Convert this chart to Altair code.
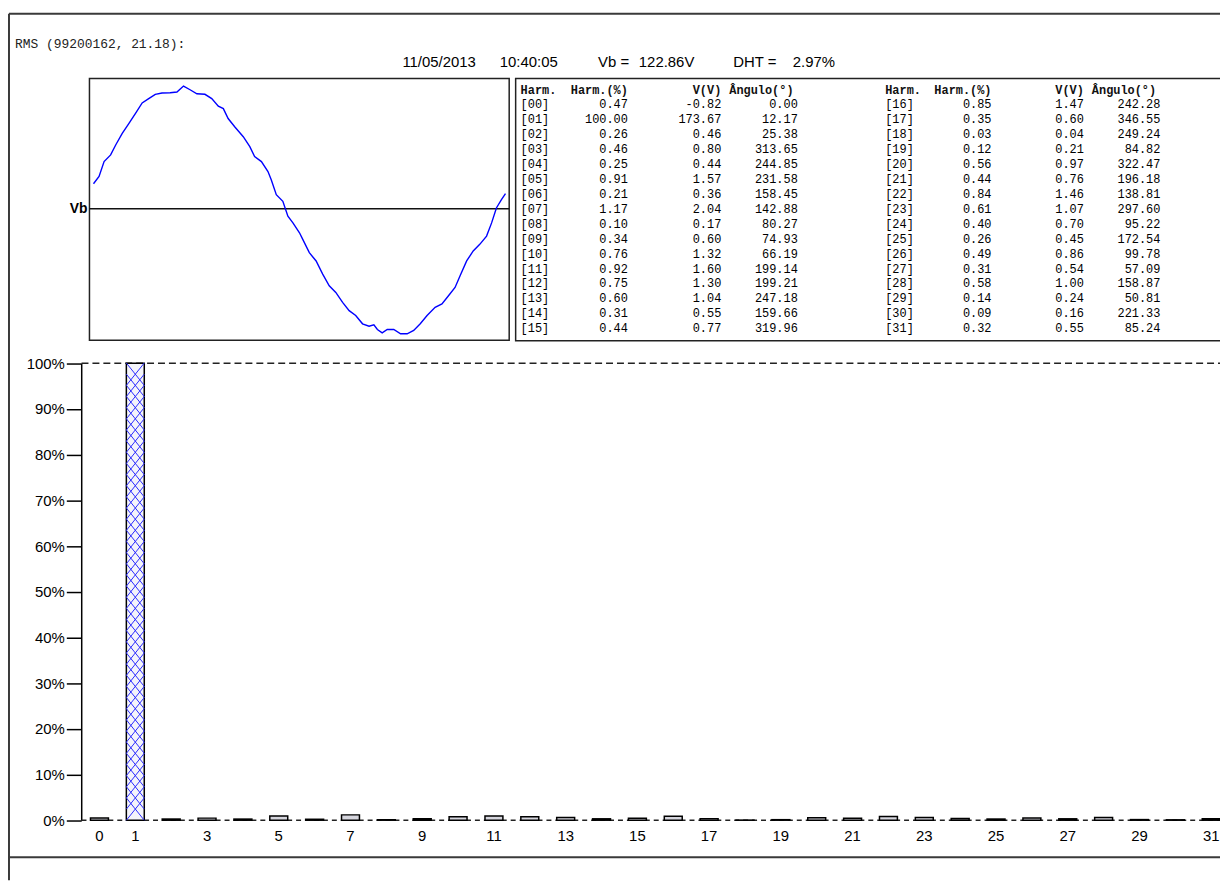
import altair as alt
import pandas as pd

# ---------------- data ----------------
header_left = "RMS (99200162, 21.18):"
header_items = ["11/05/2013", "10:40:05", "Vb =", "122.86V", "DHT =", "2.97%"]
wave_label = "Vb"
table_headers = ["Harm.", "Harm.(%)", "V(V)", "Ângulo(°)"]

harmonics = list(range(32))
harm_pct = [0.47, 100.00, 0.26, 0.46, 0.25, 0.91, 0.21, 1.17, 0.10, 0.34, 0.76, 0.92,
            0.75, 0.60, 0.31, 0.44, 0.85, 0.35, 0.03, 0.12, 0.56, 0.44, 0.84, 0.61,
            0.40, 0.26, 0.49, 0.31, 0.58, 0.14, 0.09, 0.32]
volts = [-0.82, 173.67, 0.46, 0.80, 0.44, 1.57, 0.36, 2.04, 0.17, 0.60, 1.32, 1.60,
         1.30, 1.04, 0.55, 0.77, 1.47, 0.60, 0.04, 0.21, 0.97, 0.76, 1.46, 1.07,
         0.70, 0.45, 0.86, 0.54, 1.00, 0.24, 0.16, 0.55]
angles = [0.00, 12.17, 25.38, 313.65, 244.85, 231.58, 158.45, 142.88, 80.27, 74.93,
          66.19, 199.14, 199.21, 247.18, 159.66, 319.96, 242.28, 346.55, 249.24, 84.82,
          322.47, 196.18, 138.81, 297.60, 95.22, 172.54, 99.78, 57.09, 158.87, 50.81,
          221.33, 85.24]

# waveform: time (ms) and voltage (V)
wave_t_ms = [0.16, 0.38, 0.58, 0.84, 1.04, 1.30, 1.56, 1.82, 2.09, 2.35, 2.61, 2.88,
             3.20, 3.47, 3.73, 3.99, 4.26, 4.58, 4.85, 5.11, 5.31, 5.50, 5.76, 6.10,
             6.36, 6.55, 6.82, 7.08, 7.21, 7.41, 7.67, 7.78, 7.87, 8.07, 8.33, 8.46,
             8.72, 8.99, 9.25, 9.51, 9.77, 10.04, 10.30, 10.56, 10.83, 11.09, 11.28,
             11.42, 11.61, 11.81, 12.07, 12.34, 12.60, 12.86, 13.12, 13.39, 13.71,
             13.98, 14.24, 14.50, 14.70, 14.96, 15.22, 15.48, 15.75, 15.95, 16.14,
             16.34, 16.50]
wave_v = [36.2, 46.4, 67.3, 76.7, 90.6, 106.8, 120.7, 134.7, 149.6, 155.6, 161.7, 163.5,
          163.9, 164.9, 173.3, 168.1, 162.5, 161.7, 155.6, 145.0, 141.6, 127.7, 116.1,
          102.2, 88.2, 74.3, 67.3, 53.4, 41.8, 20.9, 11.6, 0.0, -9.3, -18.7, -32.6,
          -41.8, -60.5, -72.1, -90.6, -106.9, -116.3, -130.2, -141.8, -148.7, -160.3,
          -163.7, -161.7, -168.3, -172.9, -168.3, -168.3, -174.3, -174.3, -169.6,
          -160.3, -148.7, -137.2, -132.4, -120.9, -109.3, -93.0, -72.1, -58.1, -48.8,
          -37.2, -18.7, 2.2, 13.9, 22.3]

y_ticks = [0, 10, 20, 30, 40, 50, 60, 70, 80, 90, 100]
x_labels = [0, 1, 3, 5, 7, 9, 11, 13, 15, 17, 19, 21, 23, 25, 27, 29, 31]

# ---------------- layout ----------------
W, H = 1220, 875
OX, OY = 8, 8
def px(x):
    return x - OX
def py(y):
    return y - OY

SANS = "Liberation Sans"
MONO = "Liberation Mono"
FRAME = "#3a3a3a"
dummy = pd.DataFrame({"d": [0]})


def hrule(y, x1, x2, color="black", width=1.5, dash=None):
    kw = dict(color=color, strokeWidth=width)
    if dash:
        kw["strokeDash"] = dash
    return alt.Chart(dummy).mark_rule(**kw).encode(
        x=alt.value(x1), x2=alt.value(x2), y=alt.value(y))


def vrule(x, y1, y2, color="black", width=1.5):
    return alt.Chart(dummy).mark_rule(color=color, strokeWidth=width).encode(
        x=alt.value(x), y=alt.value(y1), y2=alt.value(y2))


def label(text, x, y, font=SANS, size=15, align="left", weight="normal", color="black"):
    return alt.Chart(dummy).mark_text(
        font=font, fontSize=size, align=align, baseline="middle",
        fontWeight=weight, color=color).encode(
        x=alt.value(x), y=alt.value(y), text=alt.value(text))


layers = []

# outer frame
layers.append(vrule(px(9), py(11), H, FRAME, 2))
layers.append(hrule(py(11), px(9), W, FRAME, 2))
layers.append(hrule(py(860), px(9), W, FRAME, 2))

# header
layers.append(label(header_left, px(15), py(41), font=MONO, size=13, color="#222"))
header_x = [405, 503, 602, 643, 738, 798]
for t, xx in zip(header_items, header_x):
    layers.append(label(t, px(xx), py(60)))

# waveform panel
layers.append(alt.Chart(dummy).mark_rect(fill="white", stroke="#222", strokeWidth=1.5).encode(
    x=alt.value(px(90)), x2=alt.value(px(512.5)), y=alt.value(py(76)), y2=alt.value(py(339.5))))
layers.append(hrule(py(207.3), px(90), px(512.5), "#111", 1.5))
layers.append(label(wave_label, px(88), py(207.3), size=14, align="right", weight="bold"))

wave_df = pd.DataFrame({"t": wave_t_ms, "v": wave_v})
wave = alt.Chart(wave_df).mark_line(color="#0000ff", strokeWidth=1.4).encode(
    x=alt.X("t:Q", scale=alt.Scale(domain=[0, 16.667], range=[px(90), px(513)],
                                   nice=False, zero=False), axis=None),
    y=alt.Y("v:Q", scale=alt.Scale(domain=[-183, 183], range=[py(339.3), py(76.7)],
                                   nice=False, zero=False), axis=None),
)
layers.append(wave)

# table panel
layers.append(alt.Chart(dummy).mark_rect(fill="white", stroke="#222", strokeWidth=1.5).encode(
    x=alt.value(px(519)), x2=alt.value(W + 10), y=alt.value(py(76)), y2=alt.value(py(340))))

for bx, hx in [(0, [524, 632, 726, 734]), (1, [891, 998, 1091, 1099])]:
    aligns = ["left", "right", "right", "left"]
    for t, xx, al in zip(table_headers, hx, aligns):
        layers.append(label(t, px(xx), py(88), font=MONO, size=12, align=al,
                            weight="bold", color="#111"))

tab_df = pd.DataFrame({
    "lab": [f"[{k:02d}]" for k in harmonics],
    "pct": [f"{v:.2f}" for v in harm_pct],
    "volt": [f"{v:.2f}" for v in volts],
    "ang": [f"{v:.2f}" for v in angles],
    "row": [k % 16 for k in harmonics],
    "block": [k // 16 for k in harmonics],
})
ROWS = alt.Scale(domain=[0, 15], range=[py(102), py(327.5)], nice=False, zero=False)
tab_layers = []
cols = [("lab", "left"), ("pct", "right"), ("volt", "right"), ("ang", "right")]
col_x = {0: [524, 632, 726, 803], 1: [891, 998, 1091, 1168]}
for b in (0, 1):
    for (field, al), xx in zip(cols, col_x[b]):
        tab_layers.append(
            alt.Chart(tab_df).transform_filter(alt.datum.block == b).mark_text(
                font=MONO, fontSize=12, align=al, baseline="middle", color="#000").encode(
                x=alt.value(px(xx)),
                y=alt.Y("row:Q", scale=ROWS, axis=None),
                text=alt.Text(f"{field}:N")))
layers.append(alt.layer(*tab_layers))

# bar chart
bar_df = pd.DataFrame({"h": harmonics, "pct": harm_pct})
XS = alt.Scale(type="band", domain=harmonics, range=[px(82), px(1237.2)],
               paddingInner=0.5, paddingOuter=0.25)
YS = alt.Scale(domain=[0, 100], range=[py(822.7), py(362.7)], nice=False, zero=True)
XAX = alt.Axis(values=x_labels, ticks=False, tickSize=0, domain=False, labelAngle=0,
               labelFont=SANS, labelFontSize=15, labelColor="black", labelPadding=8,
               title=None, orient="bottom", offset=-(H - py(822.7)), grid=False)
YAX = alt.Axis(values=y_ticks, labelExpr="datum.value + '%'", orient="left",
               offset=-px(81.7), tickSize=15, tickWidth=1.5, tickColor="black",
               domainColor="black", domainWidth=1.5, labelFont=SANS, labelFontSize=15,
               labelColor="black", labelPadding=2, title=None, grid=False)

XPATH = "M-1,-1.25L1,1.25M-1,1.25L1,-1.25"

bar_group = alt.layer(
    hrule(py(822.7), px(82), W, "#222", 1.5, [5, 4]),
    hrule(py(362.7), px(82), W, "#222", 1.5, [7, 4]),
    alt.Chart(bar_df).mark_bar(stroke="black", strokeWidth=1.5).encode(
        x=alt.X("h:O", scale=XS, axis=XAX),
        y=alt.Y("pct:Q", scale=YS, axis=YAX),
        fill=alt.condition("datum.h == 1", alt.value("#f4f4fa"), alt.value("#d6d6de")),
    ),
    alt.Chart(alt.sequence(2.44, 99, 2.44, as_="hy")).transform_calculate(h="1").mark_point(
        shape=XPATH, size=324, filled=False, stroke="#2a2aff", strokeWidth=1, opacity=1).encode(
        x=alt.X("h:O", scale=XS, axis=XAX),
        y=alt.Y("hy:Q", scale=YS, axis=YAX),
    ),
)
layers.append(bar_group)

chart = alt.layer(*layers).resolve_scale(x="independent", y="independent").properties(
    width=W, height=H, padding=0, autosize="none", background="white"
).configure_view(strokeWidth=0)

chart.save("out.html", embed_options={"renderer": "svg", "actions": False})
